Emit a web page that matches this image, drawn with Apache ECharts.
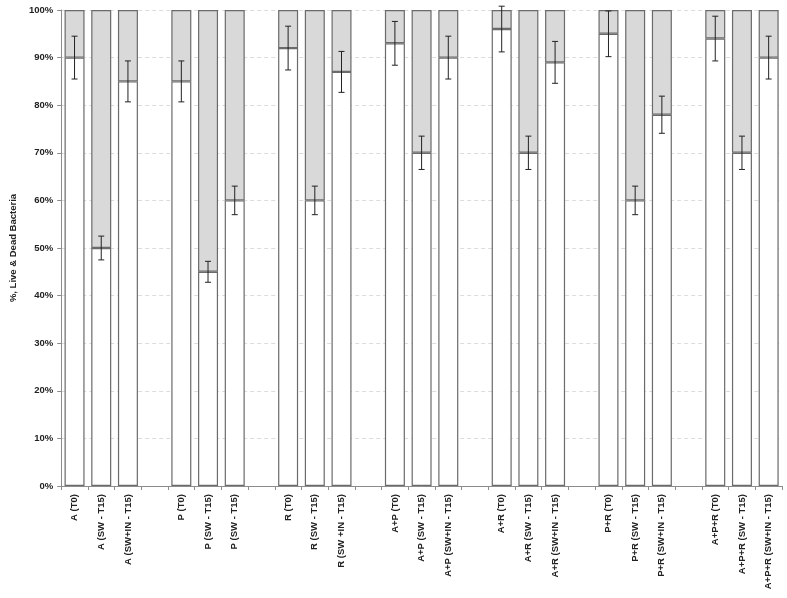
<!DOCTYPE html>
<html>
<head>
<meta charset="utf-8">
<script src="https://cdn.jsdelivr.net/npm/echarts@6/dist/echarts.min.js"></script>
<style>
  html, body { margin: 0; padding: 0; background: #fff; }
  #chart { width: 787px; height: 598px; }
</style>
</head>
<body>
<div id="chart"></div>
<script>
// bar labels, 7 groups of 3
var labels = [
  'A (T0)', 'A (SW - T15)', 'A (SW+IN - T15)',
  'P (T0)', 'P (SW - T15)', 'P (SW - T15)',
  'R (T0)', 'R (SW - T15)', 'R (SW +IN - T15)',
  'A+P (T0)', 'A+P (SW - T15)', 'A+P (SW+IN - T15)',
  'A+R (T0)', 'A+R (SW - T15)', 'A+R (SW+IN - T15)',
  'P+R (T0)', 'P+R (SW - T15)', 'P+R (SW+IN - T15)',
  'A+P+R (T0)', 'A+P+R (SW - T15)', 'A+P+R (SW+IN - T15)'
]
// live bacteria, %
var live = [90, 50, 85, 85, 45, 60, 92, 60, 87, 93, 70, 90, 96, 70, 89, 95, 60, 78, 94, 70, 90]
// error bar half-width, %
var err = [4.5, 2.5, 4.3, 4.3, 2.2, 3.0, 4.6, 3.0, 4.3, 4.6, 3.5, 4.5, 4.8, 3.5, 4.4, 4.8, 3.0, 3.9, 4.7, 3.5, 4.5]
var yTicks = [0, 100, 10]

// build category slots with an empty slot between groups
var cats = [], liveData = [], deadData = [], errData = []
labels.forEach(function (l, i) {
    if (i > 0 && i % 3 === 0) {
        cats.push(''); liveData.push(null); deadData.push(null)
    }
    var idx = cats.length
    cats.push(l)
    liveData.push(live[i])
    deadData.push(100 - live[i])
    errData.push([idx, live[i] - err[i], live[i] + err[i]])
})

var myChart = echarts.init(document.getElementById('chart'))
var barStyle = { borderColor: '#6b6b6b', borderWidth: 1.2 }
myChart.setOption({
    animation: false,
    grid: { left: 53, right: 5, top: 10, bottom: 112 },
    xAxis: {
        type: 'category',
        data: cats,
        axisLine: { lineStyle: { color: '#8c8c8c' } },
        axisTick: { show: true, interval: 0, length: 4, lineStyle: { color: '#8c8c8c' } },
        axisLabel: {
            interval: 0, rotate: 90, margin: 8,
            fontFamily: 'Liberation Sans, Arial', fontWeight: 'bold', fontSize: 9.5, color: '#222'
        }
    },
    yAxis: {
        type: 'value',
        min: yTicks[0], max: yTicks[1], interval: yTicks[2],
        name: '%, Live & Dead Bacteria',
        nameLocation: 'middle', nameGap: 41, nameRotate: 90,
        nameTextStyle: { fontFamily: 'Liberation Sans, Arial', fontWeight: 'bold', fontSize: 9.5, color: '#222' },
        axisLine: { show: true, lineStyle: { color: '#8c8c8c' } },
        axisTick: { show: true, length: 4, lineStyle: { color: '#8c8c8c' } },
        axisLabel: {
            formatter: '{value}%', margin: 8,
            fontFamily: 'Liberation Sans, Arial', fontWeight: 'bold', fontSize: 9.5, color: '#222'
        },
        splitLine: { lineStyle: { color: '#dcdcdc', type: [4, 3] } }
    },
    series: [
        {
            name: 'Live', type: 'bar', stack: 'all', barWidth: 20,
            itemStyle: Object.assign({ color: '#ffffff' }, barStyle),
            data: liveData
        },
        {
            name: 'Dead', type: 'bar', stack: 'all', barWidth: 20,
            itemStyle: Object.assign({ color: '#d9d9d9' }, barStyle),
            data: deadData
        },
        {
            type: 'custom',
            data: errData,
            z: 10,
            renderItem: function (params, api) {
                var x = api.value(0)
                var lo = api.coord([x, api.value(1)])
                var hi = api.coord([x, api.value(2)])
                var hw = 3
                var st = { stroke: '#222', lineWidth: 1 }
                return {
                    type: 'group',
                    children: [
                        { type: 'line', shape: { x1: hi[0], y1: hi[1], x2: lo[0], y2: lo[1] }, style: st },
                        { type: 'line', shape: { x1: hi[0] - hw, y1: hi[1], x2: hi[0] + hw, y2: hi[1] }, style: st },
                        { type: 'line', shape: { x1: lo[0] - hw, y1: lo[1], x2: lo[0] + hw, y2: lo[1] }, style: st }
                    ]
                }
            }
        }
    ]
})
</script>
</body>
</html>
